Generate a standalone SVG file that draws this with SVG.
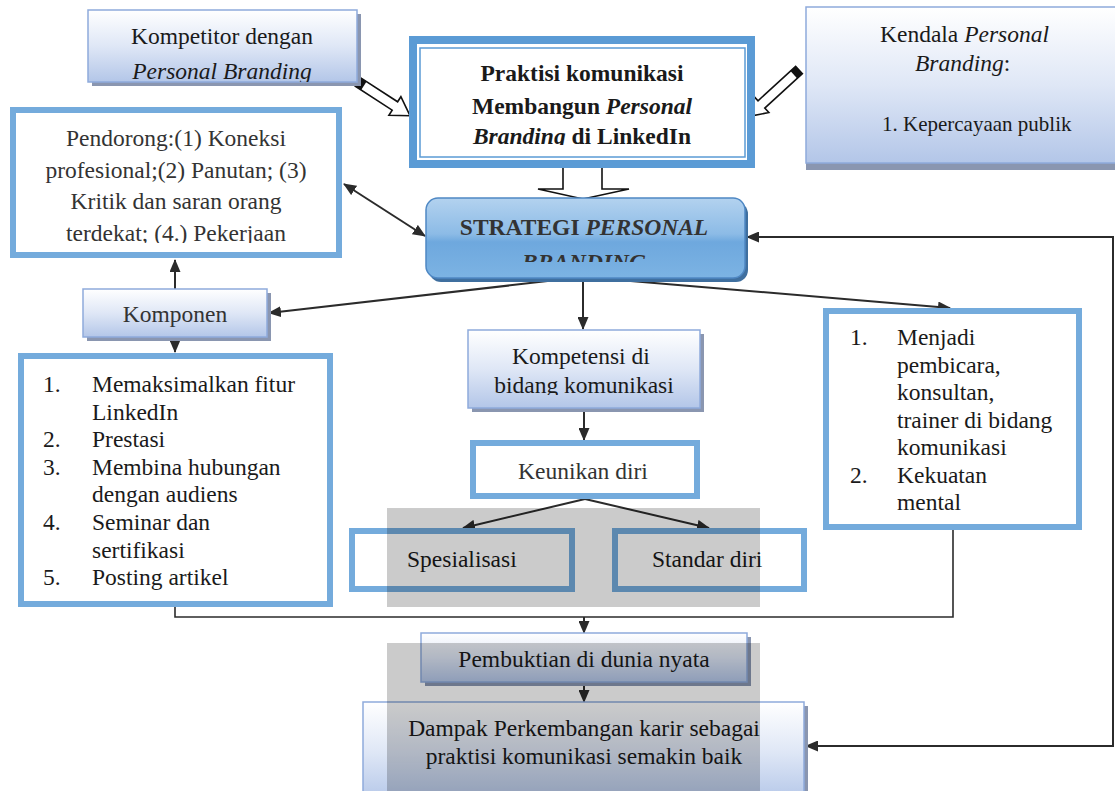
<svg xmlns="http://www.w3.org/2000/svg" width="1115" height="791" viewBox="0 0 1115 791">
<style>
.t{font-family:"Liberation Serif","Times New Roman",serif;font-size:23.5px;fill:#1a1a1a}
.g{fill:#333}
.b{font-weight:bold}
.i{font-style:italic}
.grad{fill:url(#gb);stroke:#8eaadb;stroke-width:1.5}
.sh{fill:#8a96b0}
.thick{fill:#fff;stroke:#74abdc;stroke-width:6}
.ln{fill:none;stroke:#2b2b2b;stroke-width:2}
.ln1{fill:none;stroke:#2b2b2b;stroke-width:1.6}
.hol{fill:#fff;stroke:#111;stroke-width:1.6}
</style>
<defs>
<linearGradient id="gb" x1="0" y1="0" x2="0" y2="1">
<stop offset="0" stop-color="#ffffff"/>
<stop offset="0.5" stop-color="#dfe7f6"/>
<stop offset="1" stop-color="#b3c6e8"/>
</linearGradient>
<linearGradient id="gs" x1="0" y1="0" x2="0" y2="1">
<stop offset="0" stop-color="#b3d2ef"/>
<stop offset="0.45" stop-color="#8cbbe6"/>
<stop offset="0.55" stop-color="#6ea8de"/>
<stop offset="1" stop-color="#7cb3e3"/>
</linearGradient>
<marker id="ah" markerUnits="userSpaceOnUse" markerWidth="13" markerHeight="11" viewBox="0 0 13 11" refX="12" refY="5.5" orient="auto-start-reverse">
<path d="M0,0 L13,5.5 L0,11 Z" fill="#2b2b2b"/>
</marker>
<clipPath id="c1"><rect x="88" y="10" width="269" height="72"/></clipPath>
<clipPath id="c2"><rect x="420" y="48" width="325" height="97"/></clipPath>
<clipPath id="c3"><rect x="426" y="198" width="319" height="64"/></clipPath>
<clipPath id="c4"><rect x="13" y="110" width="326" height="133"/></clipPath>
<clipPath id="c5"><rect x="468" y="330" width="232" height="65"/></clipPath>
</defs>
<rect width="1115" height="791" fill="#fff"/>

<g id="connectors">
<line class="ln" x1="344" y1="184" x2="425" y2="236" marker-start="url(#ah)" marker-end="url(#ah)"/>
<line class="ln" x1="175" y1="289" x2="175" y2="260" marker-end="url(#ah)"/>
<line class="ln" x1="175" y1="337" x2="175" y2="352" marker-end="url(#ah)"/>
<line class="ln" x1="583" y1="277" x2="269" y2="313" marker-end="url(#ah)"/>
<line class="ln" x1="583" y1="277" x2="950" y2="308" marker-end="url(#ah)"/>
<line class="ln" x1="583" y1="277" x2="583" y2="329" marker-end="url(#ah)"/>
<line class="ln" x1="584" y1="408" x2="584" y2="440" marker-end="url(#ah)"/>
<line class="ln" x1="585" y1="499" x2="463" y2="528" marker-end="url(#ah)"/>
<line class="ln" x1="585" y1="499" x2="709" y2="528" marker-end="url(#ah)"/>
<polyline class="ln1" points="175,607 175,617 953,617 953,530"/>
<line class="ln" x1="584" y1="617" x2="584" y2="633" marker-end="url(#ah)"/>
<line class="ln" x1="584" y1="682" x2="584" y2="702" marker-end="url(#ah)"/>
<polyline class="ln" points="806,746 1113,746 1113,237 747,237" marker-start="url(#ah)" marker-end="url(#ah)"/>
<g transform="translate(358,82) rotate(33)">
<path class="hol" d="M0,-5 L44,-5 L44,-11 L62,0 L44,11 L44,5 L0,5 Z"/>
<rect x="0" y="-5" width="7" height="10" fill="#111"/>
</g>
<g transform="translate(799,70) rotate(137.5)">
<path class="hol" d="M0,-5 L51,-5 L51,-11 L69,0 L51,11 L51,5 L0,5 Z"/>
<rect x="0" y="-5" width="7" height="10" fill="#111"/>
</g>
<path class="hol" d="M563,166 L563,189 L538,189 L583,199 L629,189 L602,189 L602,166"/>
</g>

<g id="kompetitor">
<rect class="sh" x="92" y="14" width="269" height="72"/>
<rect class="grad" x="88" y="10" width="269" height="72"/>
<g clip-path="url(#c1)">
<text class="t" x="222" y="44" text-anchor="middle">Kompetitor dengan</text>
<text class="t i" x="222" y="79" text-anchor="middle">Personal Branding</text>
</g>
</g>

<g id="praktisi">
<rect x="413" y="40" width="338" height="124" fill="#fff" stroke="#5b9bd5" stroke-width="8"/>
<rect x="420" y="48" width="325" height="109" fill="none" stroke="#5b9bd5" stroke-width="1.5"/>
<g clip-path="url(#c2)">
<text class="t b" x="582" y="81" text-anchor="middle">Praktisi komunikasi</text>
<text class="t b" x="582" y="114" text-anchor="middle">Membangun <tspan class="i">Personal</tspan></text>
<text class="t b" x="582" y="144" text-anchor="middle"><tspan class="i">Branding</tspan> di LinkedIn</text>
</g>
</g>

<g id="kendala">
<rect class="sh" x="806" y="11" width="320" height="159"/>
<rect class="grad" x="806" y="7" width="320" height="156"/>
<text class="t" x="880" y="42">Kendala <tspan class="i">Personal</tspan></text>
<text class="t" x="915" y="71"><tspan class="i">Branding</tspan>:</text>
<text class="t" x="882" y="131" style="font-size:21px">1. Kepercayaan publik</text>
</g>

<g id="pendorong">
<rect class="thick" x="13" y="110" width="326" height="145"/>
<g clip-path="url(#c4)">
<text class="t g" x="176" y="146" text-anchor="middle">Pendorong:(1) Koneksi</text>
<text class="t g" x="176" y="178" text-anchor="middle">profesional;(2) Panutan; (3)</text>
<text class="t g" x="176" y="209" text-anchor="middle">Kritik dan saran orang</text>
<text class="t g" x="176" y="241" text-anchor="middle">terdekat; (4.) Pekerjaan</text>
</g>
</g>

<g id="strategi">
<rect x="429" y="202" width="319" height="80" rx="12" fill="#3f6f9f"/>
<rect x="426" y="198" width="319" height="80" rx="12" fill="url(#gs)" stroke="#4f88c4" stroke-width="1.5"/>
<g clip-path="url(#c3)">
<text class="t b g" x="584" y="235" text-anchor="middle">STRATEGI <tspan class="i">PERSONAL</tspan></text>
<text class="t b g i" x="584" y="270" text-anchor="middle">BRANDING</text>
</g>
</g>

<g id="komponen">
<rect class="sh" x="87" y="293" width="184" height="48"/>
<rect class="grad" x="83" y="289" width="184" height="48"/>
<text class="t g" x="175" y="322" text-anchor="middle">Komponen</text>
</g>

<g id="kompetensi">
<rect class="sh" x="472" y="334" width="232" height="78"/>
<rect class="grad" x="468" y="330" width="232" height="78"/>
<g clip-path="url(#c5)">
<text class="t" x="512" y="364">Kompetensi  di</text>
<text class="t" x="584" y="393" text-anchor="middle">bidang komunikasi</text>
</g>
</g>

<g id="list-komponen">
<rect class="thick" x="21" y="356" width="309" height="248"/>
<text class="t"><tspan x="43" y="392">1.</tspan><tspan x="92" y="392">Memaksimalkan fitur</tspan><tspan x="92" y="420">LinkedIn</tspan><tspan x="43" y="447">2.</tspan><tspan x="92" y="447">Prestasi</tspan><tspan x="43" y="475">3.</tspan><tspan x="92" y="475">Membina hubungan</tspan><tspan x="92" y="502">dengan audiens</tspan><tspan x="43" y="530">4.</tspan><tspan x="92" y="530">Seminar dan</tspan><tspan x="92" y="558">sertifikasi</tspan><tspan x="43" y="585">5.</tspan><tspan x="92" y="585">Posting artikel</tspan></text>
</g>

<g id="list-kanan">
<rect class="thick" x="826" y="311" width="253" height="216"/>
<text class="t"><tspan x="850" y="345">1.</tspan><tspan x="897" y="345">Menjadi</tspan><tspan x="897" y="372.5">pembicara,</tspan><tspan x="897" y="400">konsultan,</tspan><tspan x="897" y="427.5">trainer di bidang</tspan><tspan x="897" y="455">komunikasi</tspan><tspan x="850" y="482.5">2.</tspan><tspan x="897" y="482.5">Kekuatan</tspan><tspan x="897" y="510">mental</tspan></text>
</g>

<g id="keunikan">
<rect class="thick" x="473" y="443" width="224" height="53"/>
<text class="t g" x="518" y="479">Keunikan diri</text>
</g>

<g id="spesialisasi">
<rect class="thick" x="352" y="531" width="220" height="58"/>
<text class="t" x="407" y="567">Spesialisasi</text>
</g>

<g id="standar">
<rect class="thick" x="615" y="531" width="189" height="58"/>
<text class="t" x="652" y="567">Standar diri</text>
</g>

<g id="pembuktian">
<rect class="sh" x="425" y="637" width="326" height="49"/>
<rect class="grad" x="421" y="633" width="326" height="49"/>
<text class="t" x="584" y="667" text-anchor="middle">Pembuktian di dunia nyata</text>
</g>

<g id="dampak">
<rect class="sh" x="367" y="706" width="441" height="100"/>
<rect class="grad" x="363" y="702" width="441" height="100"/>
<text class="t" x="584" y="736" text-anchor="middle">Dampak Perkembangan karir sebagai</text>
<text class="t" x="584" y="764" text-anchor="middle">praktisi komunikasi semakin baik</text>
</g>

<g id="shade" fill="#000" opacity="0.2">
<rect x="387" y="508" width="373" height="99"/>
<rect x="387" y="643" width="373" height="148"/>
</g>
</svg>
